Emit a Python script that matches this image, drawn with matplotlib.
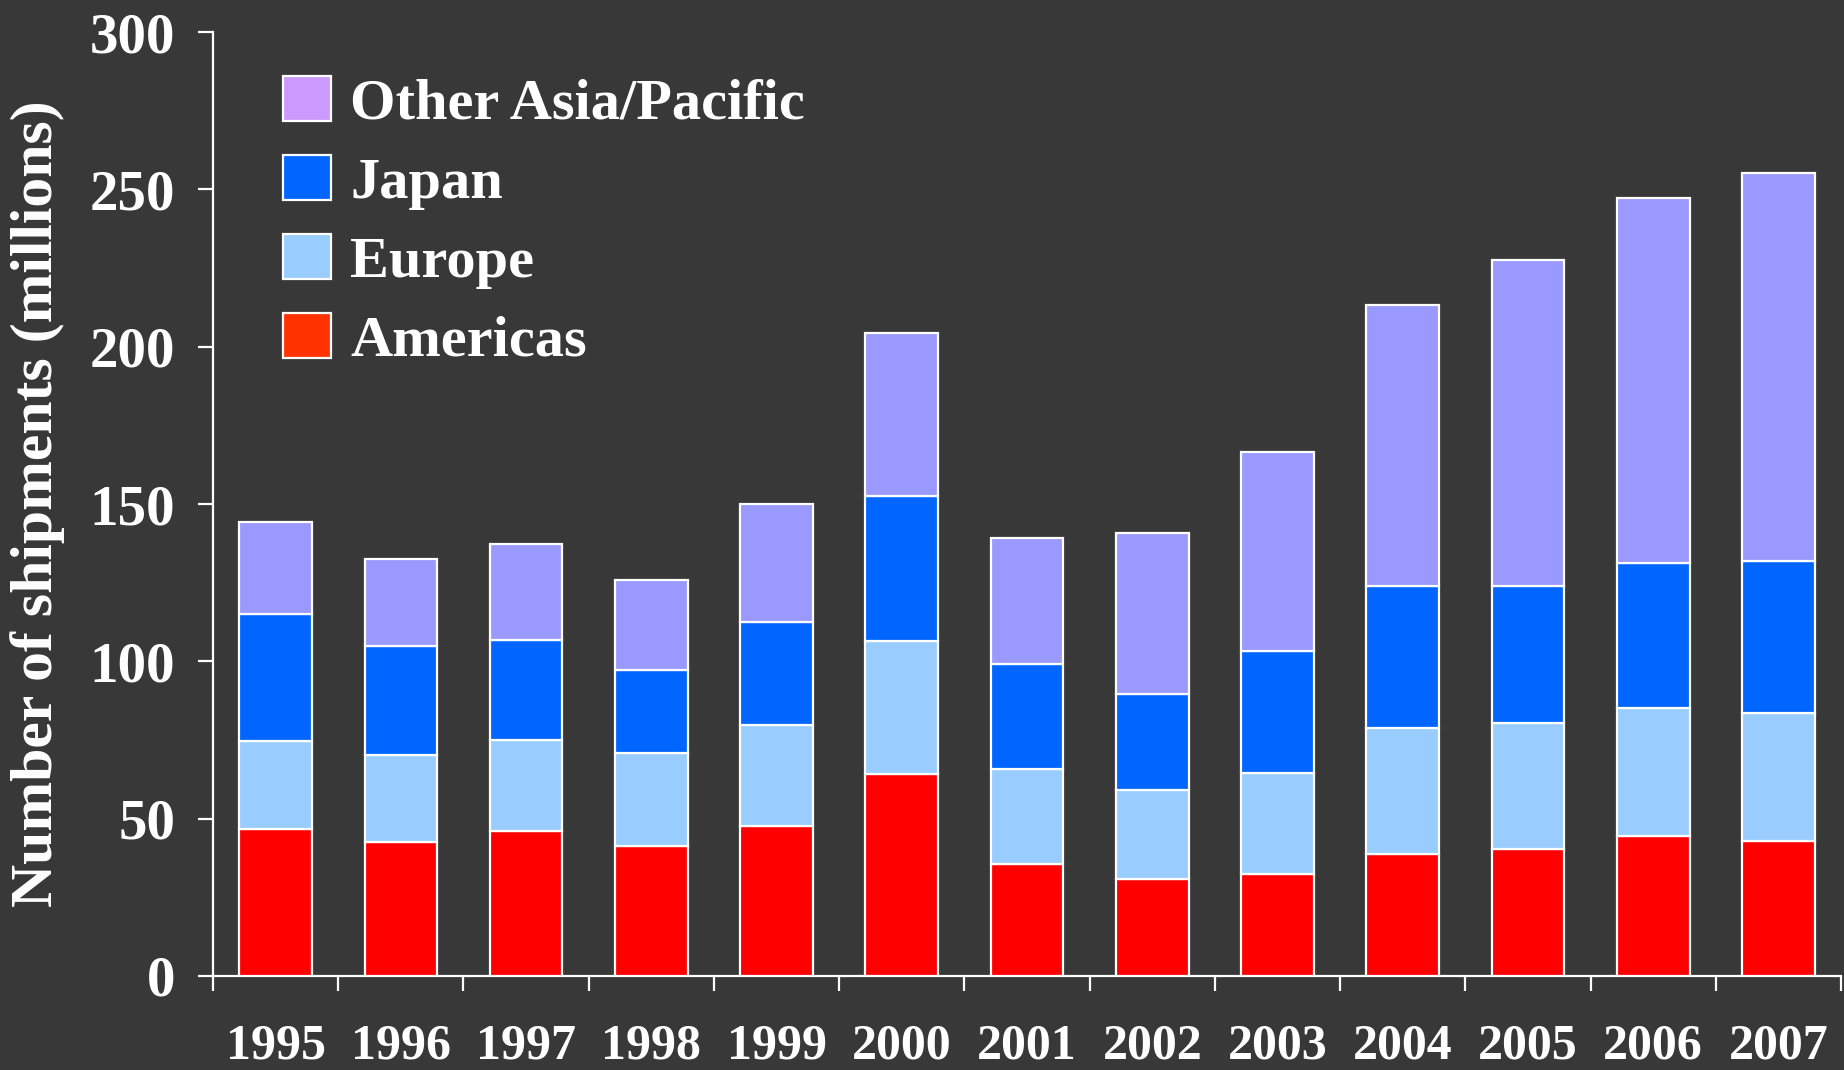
import matplotlib
matplotlib.use("Agg")
import matplotlib.pyplot as plt
from matplotlib.patches import Patch
import numpy as np

years = ["1995", "1996", "1997", "1998", "1999", "2000", "2001",
         "2002", "2003", "2004", "2005", "2006", "2007"]
americas = [46.7, 42.7, 46.0, 41.3, 47.6, 64.2, 35.5, 30.9, 32.4, 38.9, 40.4, 44.4, 42.8]
europe = [28.1, 27.4, 29.0, 29.7, 32.2, 42.4, 30.4, 28.1, 32.2, 39.8, 39.9, 40.8, 40.9]
japan = [40.1, 34.7, 31.8, 26.2, 32.7, 46.0, 33.4, 30.7, 38.7, 45.2, 43.6, 46.0, 48.1]
other_asia = [29.5, 27.6, 30.4, 28.8, 37.5, 51.9, 39.9, 51.1, 63.1, 89.5, 103.7, 116.2, 123.5]

series_names = ["Americas", "Europe", "Japan", "Other Asia/Pacific"]
bar_colors = ["#FF0000", "#99CCFF", "#0066FF", "#9999FF"]
legend_colors = ["#FF3300", "#99CCFF", "#0066FF", "#CC99FF"]
yticks = [0, 50, 100, 150, 200, 250, 300]

BG = "#383838"
FONT = "Liberation Serif"

fig = plt.figure(figsize=(18.44, 10.70), dpi=100, facecolor=BG)
ax = fig.add_axes([0.1155, 0.0879, 0.9984 - 0.1155, 0.970 - 0.0879])
ax.set_facecolor("none")

x = np.arange(len(years))
bottom = np.zeros(len(years))
for vals, col in zip([americas, europe, japan, other_asia], bar_colors):
    ax.bar(x, vals, width=0.58, bottom=bottom, color=col,
           edgecolor="white", linewidth=1.6, zorder=3)
    bottom += np.array(vals)

ax.set_xlim(-0.5, len(years) - 0.5)
ax.set_ylim(0, 300)
ax.set_yticks(yticks)
ax.set_yticklabels([str(t) for t in yticks])
ax.set_xticks(x)
ax.set_xticklabels(years)
ax.set_xticks(np.arange(-0.5, len(years) + 0.5, 1.0), minor=True)

for s in ["top", "right"]:
    ax.spines[s].set_visible(False)
for s in ["left", "bottom"]:
    ax.spines[s].set_color("white")
    ax.spines[s].set_linewidth(1.6)

ax.tick_params(axis="y", direction="out", length=11, width=1.6, color="white",
               pad=16, labelcolor="white", labelsize=41)
ax.tick_params(axis="x", which="major", length=0, pad=34,
               labelcolor="white", labelsize=36)
ax.tick_params(axis="x", which="minor", direction="out", length=11, width=1.6,
               color="white")
for lab in ax.get_xticklabels() + ax.get_yticklabels():
    lab.set_fontfamily(FONT)
    lab.set_fontweight("bold")

ax.set_ylabel("Number of shipments (millions)", fontsize=43, fontweight="bold",
              family=FONT, color="white", labelpad=18)

handles = [Patch(facecolor=c, edgecolor="white", linewidth=1.6)
           for c in reversed(legend_colors)]
leg = ax.legend(handles, list(reversed(series_names)), loc="upper left",
                bbox_to_anchor=(283 / 1844, 1 - 76 / 1070),
                bbox_transform=fig.transFigure, frameon=False,
                prop={"family": FONT, "weight": "bold", "size": 42},
                handlelength=0.82, handleheight=0.82, handletextpad=0.33,
                labelspacing=0.41, borderpad=0, borderaxespad=0)
for t in leg.get_texts():
    t.set_color("white")

fig.savefig("out.png", dpi=100, facecolor=BG)
